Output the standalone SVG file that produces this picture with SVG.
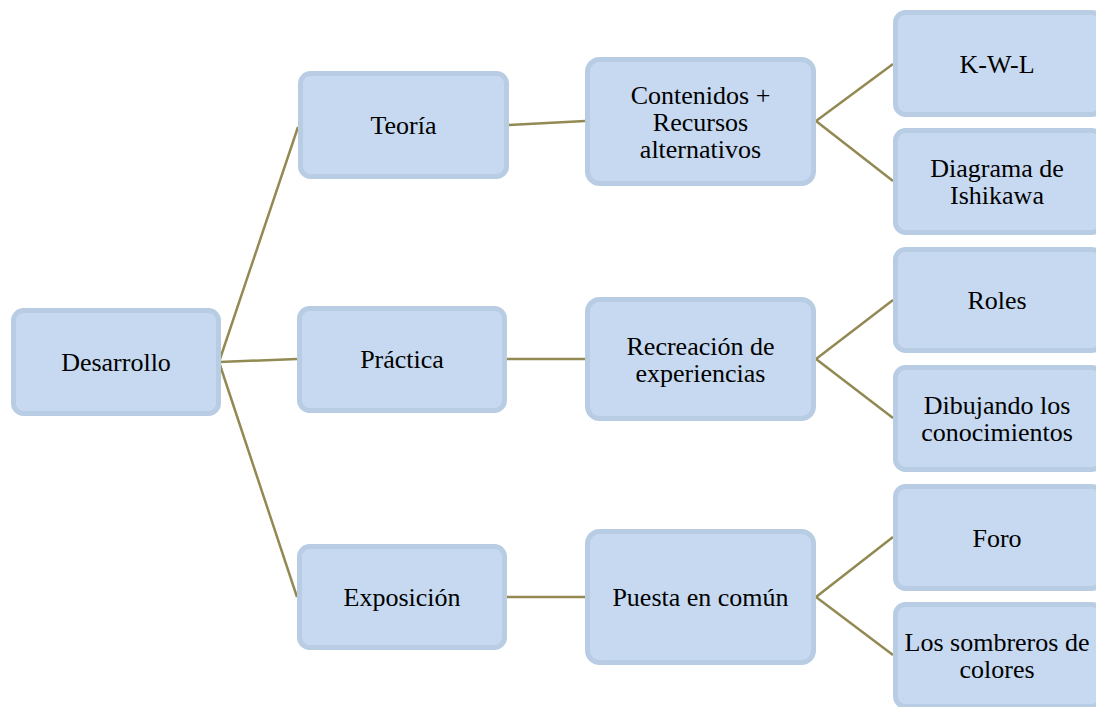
<svg xmlns="http://www.w3.org/2000/svg" width="1096" height="707" viewBox="0 0 1096 707">
<defs>
<style>
.box{fill:#c6d9f0;stroke:#b8cce4;stroke-width:5}
.c{stroke:#938953;stroke-width:2.5;fill:none}
</style>
</defs>
<rect width="1096" height="707" fill="#fff"/>
<g id="connectors">
<line class="c" x1="219" y1="362" x2="298" y2="127"/>
<line class="c" x1="219" y1="362" x2="297" y2="359"/>
<line class="c" x1="219" y1="362" x2="297" y2="597"/>
<line class="c" x1="509" y1="125" x2="585" y2="121"/>
<line class="c" x1="507" y1="359" x2="585" y2="359"/>
<line class="c" x1="507" y1="597" x2="585" y2="597"/>
<polyline class="c" points="893,64 816,121 893,181"/>
<polyline class="c" points="893,300 816,359 893,418"/>
<polyline class="c" points="893,537 816,597 893,655"/>
</g>
<g font-family="Liberation Serif, Times New Roman, Times, serif" font-size="26" fill="#000" text-anchor="middle">
<g id="desarrollo"><rect class="box" x="13.5" y="310.5" width="205" height="103" rx="10"/><text x="116" y="371">Desarrollo</text></g>
<g id="teoria"><rect class="box" x="300.5" y="73.5" width="206" height="103" rx="10"/><text x="403.5" y="134">Teoría</text></g>
<g id="practica"><rect class="box" x="299.5" y="308.5" width="205" height="102" rx="10"/><text x="402" y="368">Práctica</text></g>
<g id="exposicion"><rect class="box" x="299.5" y="546.5" width="205" height="101" rx="10"/><text x="402" y="606">Exposición</text></g>
<g id="contenidos"><rect class="box" x="587.5" y="59.5" width="226" height="124" rx="12"/><text x="700.5" y="103.5">Contenidos +</text><text x="700.5" y="130.5">Recursos</text><text x="700.5" y="157.5">alternativos</text></g>
<g id="recreacion"><rect class="box" x="587.5" y="299.5" width="226" height="119" rx="12"/><text x="700.5" y="355">Recreación de</text><text x="700.5" y="382">experiencias</text></g>
<g id="puesta"><rect class="box" x="587.5" y="531.5" width="226" height="131" rx="12"/><text x="700.5" y="606">Puesta en común</text></g>
<g id="kwl"><rect class="box" x="895.5" y="12.5" width="206" height="102" rx="10"/><text x="997" y="72.5">K-W-L</text></g>
<g id="ishikawa"><rect class="box" x="895.5" y="130.5" width="206" height="102" rx="10"/><text x="997" y="177">Diagrama de</text><text x="997" y="204">Ishikawa</text></g>
<g id="roles"><rect class="box" x="895.5" y="249.5" width="206" height="101" rx="10"/><text x="997" y="309">Roles</text></g>
<g id="dibujando"><rect class="box" x="895.5" y="367.5" width="206" height="102" rx="10"/><text x="997" y="414">Dibujando los</text><text x="997" y="441">conocimientos</text></g>
<g id="foro"><rect class="box" x="895.5" y="486.5" width="206" height="102" rx="10"/><text x="997" y="546.5">Foro</text></g>
<g id="sombreros"><rect class="box" x="895.5" y="604.5" width="206" height="102" rx="10"/><text x="997" y="651">Los sombreros de</text><text x="997" y="678">colores</text></g>
</g>
</svg>
